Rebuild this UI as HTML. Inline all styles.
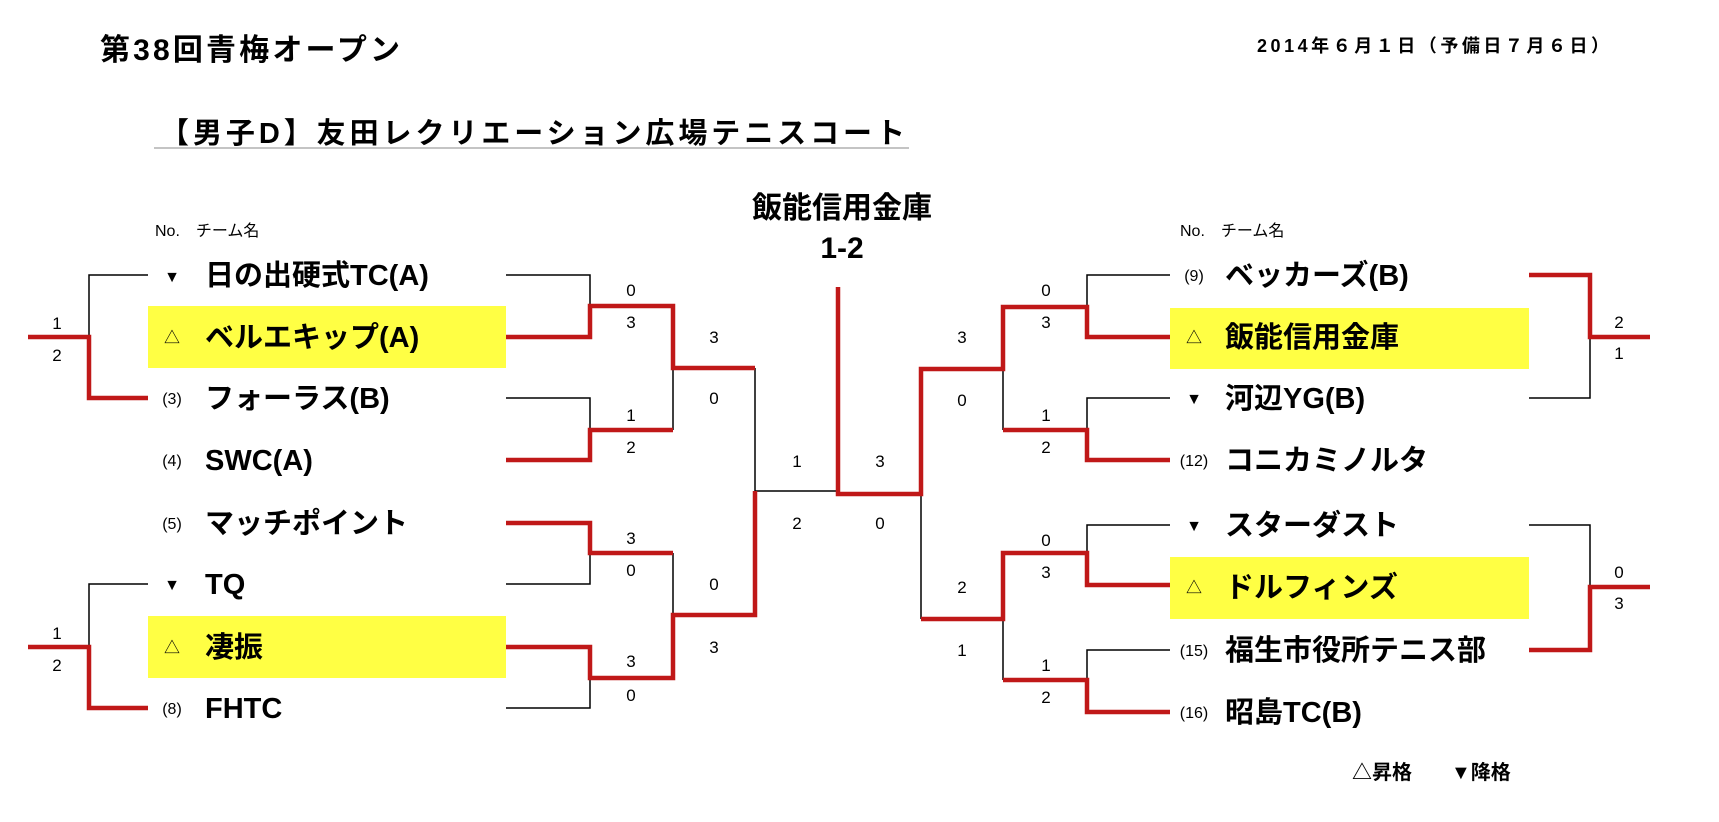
<!DOCTYPE html>
<html><head><meta charset="utf-8"><style>
html,body{margin:0;padding:0;background:#fff;}
svg{display:block;}
text{font-family:"Liberation Sans","Noto Sans CJK JP",sans-serif;fill:#000;}
.n{font-size:29px;font-weight:bold;}
.s{font-size:17px;text-anchor:middle;}
.m{font-size:16px;text-anchor:middle;}
.k{fill:none;stroke:#000;stroke-width:1.5;}
.r{fill:none;stroke:#c01818;stroke-width:4.5;}
</style></head><body>
<svg width="1719" height="822" viewBox="0 0 1719 822" xmlns="http://www.w3.org/2000/svg">
<text x="100" y="60" font-size="30" font-weight="bold" textLength="300">第38回青梅オープン</text>
<text x="1257" y="52" font-size="18" font-weight="bold" textLength="352">2014年６月１日（予備日７月６日）</text>
<text x="160" y="143" font-size="29" font-weight="bold" textLength="745">【男子D】友田レクリエーション広場テニスコート</text>
<line x1="154" y1="148" x2="909" y2="148" stroke="#888" stroke-width="1"/>
<text x="842" y="218" font-size="30" font-weight="bold" text-anchor="middle">飯能信用金庫</text>
<text x="842" y="258" font-size="30" font-weight="bold" text-anchor="middle">1-2</text>
<text x="155" y="236" font-size="16">No.　チーム名</text>
<text x="1180" y="236" font-size="16">No.　チーム名</text>

<rect x="148" y="306" width="358" height="62" fill="#ffff44"/>
<rect x="148" y="616" width="358" height="62" fill="#ffff44"/>
<rect x="1170" y="308" width="359" height="61" fill="#ffff44"/>
<rect x="1170" y="557" width="359" height="62" fill="#ffff44"/>

<g class="n">
<text x="205" y="285">日の出硬式TC(A)</text>
<text x="205" y="347">ベルエキップ(A)</text>
<text x="205" y="408">フォーラス(B)</text>
<text x="205" y="470">SWC(A)</text>
<text x="205" y="533">マッチポイント</text>
<text x="205" y="594">TQ</text>
<text x="205" y="657">凄振</text>
<text x="205" y="718">FHTC</text>
<text x="1225" y="285">ベッカーズ(B)</text>
<text x="1225" y="347">飯能信用金庫</text>
<text x="1225" y="408">河辺YG(B)</text>
<text x="1225" y="470">コニカミノルタ</text>
<text x="1225" y="535">スターダスト</text>
<text x="1225" y="597">ドルフィンズ</text>
<text x="1225" y="660">福生市役所テニス部</text>
<text x="1225" y="722">昭島TC(B)</text>
</g>
<g class="m">
<text x="172" y="282">▼</text>
<text x="172" y="343">△</text>
<text x="172" y="404">(3)</text>
<text x="172" y="466">(4)</text>
<text x="172" y="529">(5)</text>
<text x="172" y="590">▼</text>
<text x="172" y="653">△</text>
<text x="172" y="714">(8)</text>
<text x="1194" y="281">(9)</text>
<text x="1194" y="343">△</text>
<text x="1194" y="404">▼</text>
<text x="1194" y="466">(12)</text>
<text x="1194" y="531">▼</text>
<text x="1194" y="593">△</text>
<text x="1194" y="656">(15)</text>
<text x="1194" y="718">(16)</text>
</g>

<g class="k">
<path d="M148 275H89V337"/>
<path d="M148 584H89V647"/>
<path d="M506 275H590V306"/>
<path d="M506 398H590V430"/>
<path d="M506 584H590V553"/>
<path d="M506 708H590V678"/>
<path d="M673 368V430"/>
<path d="M673 553V615"/>
<path d="M755 368V491H838"/>
<path d="M921 494V619"/>
<path d="M1003 369V430"/>
<path d="M1170 275H1087V307"/>
<path d="M1170 398H1087V430"/>
<path d="M1170 525H1087V553"/>
<path d="M1003 619V680"/>
<path d="M1170 650H1087V680"/>
<path d="M1590 337V398H1529"/>
<path d="M1529 525H1590V587"/>
</g>
<g class="r">
<path d="M28 337H89V398H148"/>
<path d="M28 647H89V708H148"/>
<path d="M506 337H590V306H673V368H755"/>
<path d="M506 460H590V430H673"/>
<path d="M506 523H590V553H673"/>
<path d="M506 647H590V678H673V615H755V491"/>
<path d="M838 287V494H921V369H1003V307H1087V337H1170"/>
<path d="M1003 430H1087V460H1170"/>
<path d="M921 619H1003V553H1087V585H1170"/>
<path d="M1003 680H1087V712H1170"/>
<path d="M1529 275H1590V337H1650"/>
<path d="M1650 587H1590V650H1529"/>
</g>

<g class="s">
<text x="57" y="329">1</text><text x="57" y="361">2</text>
<text x="57" y="639">1</text><text x="57" y="671">2</text>
<text x="631" y="296">0</text><text x="631" y="328">3</text>
<text x="631" y="421">1</text><text x="631" y="453">2</text>
<text x="631" y="544">3</text><text x="631" y="576">0</text>
<text x="631" y="667">3</text><text x="631" y="701">0</text>
<text x="714" y="343">3</text><text x="714" y="404">0</text>
<text x="714" y="590">0</text><text x="714" y="653">3</text>
<text x="797" y="467">1</text><text x="797" y="529">2</text>
<text x="880" y="467">3</text><text x="880" y="529">0</text>
<text x="962" y="343">3</text><text x="962" y="406">0</text>
<text x="962" y="593">2</text><text x="962" y="656">1</text>
<text x="1046" y="296">0</text><text x="1046" y="328">3</text>
<text x="1046" y="421">1</text><text x="1046" y="453">2</text>
<text x="1046" y="546">0</text><text x="1046" y="578">3</text>
<text x="1046" y="671">1</text><text x="1046" y="703">2</text>
<text x="1619" y="328">2</text><text x="1619" y="359">1</text>
<text x="1619" y="578">0</text><text x="1619" y="609">3</text>
</g>
<text x="1352" y="779" font-size="20" font-weight="bold">△昇格</text>
<text x="1451" y="779" font-size="20" font-weight="bold">▼降格</text>
</svg>
</body></html>
